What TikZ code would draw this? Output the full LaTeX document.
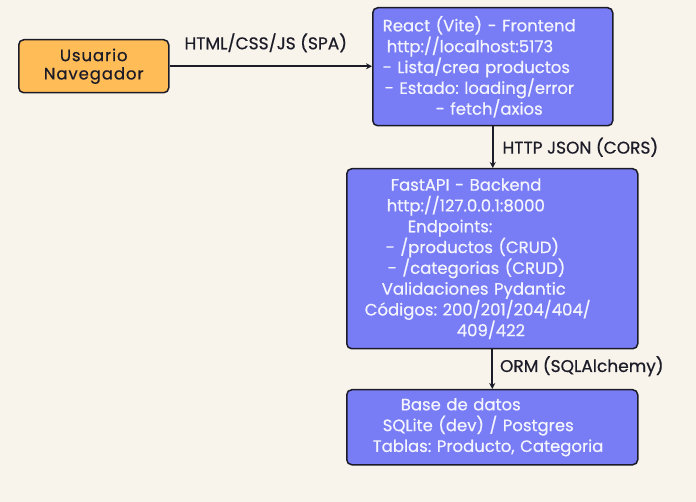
\documentclass[tikz,border=0pt]{standalone}
\usepackage{fontspec}
\setmainfont{Poppins}[FakeBold=0.6]
\frenchspacing
\usetikzlibrary{arrows.meta,positioning}
\definecolor{colBg}{HTML}{F8F3EB}
\definecolor{colBlue}{HTML}{787CF5}
\definecolor{colOrange}{HTML}{FFBC57}
\definecolor{colLine}{HTML}{1C1C28}
\definecolor{colPale}{HTML}{F4F4FF}
\newcommand\lineAt[1]{\hspace*{#1pt}}

\begin{document}
\begin{tikzpicture}[x=1pt,y=-1pt,
    box/.style={draw=colLine, line width=1.5pt, rounded corners=5pt,
      anchor=north west, inner xsep=10pt, inner ysep=0pt,
      font=\fontsize{16.5}{20.8}\selectfont},
    blueBox/.style={box, fill=colBlue, text=colPale, align=left},
    flow/.style={draw=colLine, line width=1.6pt, -{Stealth[length=6pt,width=6pt]}},
    lbl/.style={text=colLine, inner sep=0pt, font=\fontsize{17}{17}\selectfont}]
  \fill[colBg] (0,0) rectangle (696,502);
  \useasboundingbox (0,0) rectangle (696,502);

  %% Boxes
  \node[box, fill=colOrange, text=colLine, align=center,
    minimum width=150pt, minimum height=53pt,
    font=\fontsize{16.5}{18.3}\selectfont\addfontfeature{LetterSpace=5.5}] (user) at (18,39)
    {Usuario\\Navegador};
  \node[blueBox, text width=220pt, minimum height=118pt] (react) at (372,7)
    {\lineAt{0}React (Vite) - Frontend\\
     \lineAt{4}http://localhost:5173\\
     \lineAt{0}- Lista/crea productos\\
     \lineAt{2}- Estado: loading/error\\
     \lineAt{53}- fetch/axios};
  \node[blueBox, text width=271pt, minimum height=180pt] (api) at (346,168)
    {\lineAt{34}FastAPI - Backend\\
     \lineAt{30}http://127.0.0.1:8000\\
     \lineAt{51}Endpoints:\\
     \lineAt{29}- /productos (CRUD)\\
     \lineAt{31}- /categorias (CRUD)\\
     \lineAt{25}Validaciones Pydantic\\
     \lineAt{8}Códigos: 200/201/204/404/\\
     \lineAt{100}409/422};
  \node[blueBox, text width=271pt, minimum height=75pt] (db) at (346,389)
    {\lineAt{44}Base de datos\\
     \lineAt{26}SQLite (dev) / Postgres\\
     \lineAt{16}Tablas: Producto, Categoria};

  %% Connectors
  \draw[flow] (user.east) -- (user.east -| react.west)
    node[lbl, midway, above=13pt, xshift=-5pt] (lblSpa) {HTML/CSS/JS (SPA)};
  \draw[flow] (react.south) -- (react.south |- api.north)
    node[lbl, midway, right=9pt] (lblJson) {HTTP JSON (CORS)};
  \draw[flow] (api.south) -- (api.south |- db.north)
    node[lbl, midway, right=7pt, yshift=3pt] (lblOrm) {ORM (SQLAlchemy)};
\end{tikzpicture}
\end{document}
